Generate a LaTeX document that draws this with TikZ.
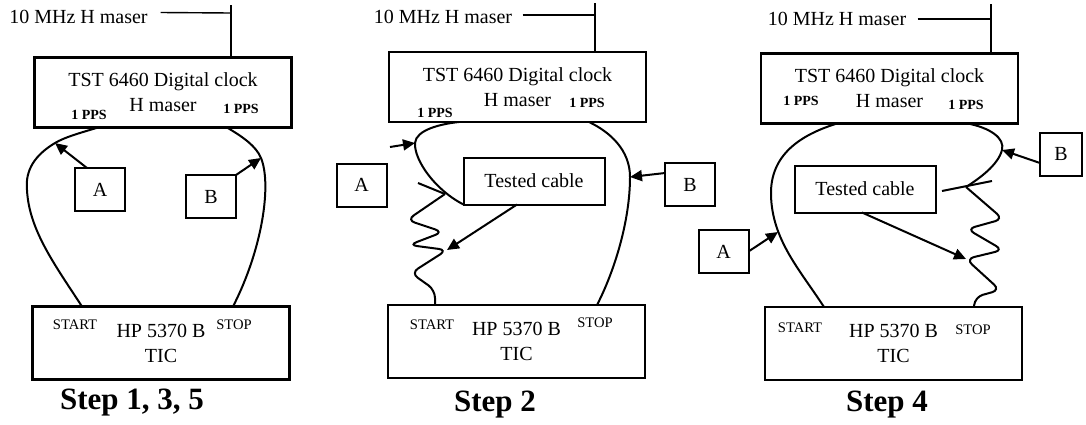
\documentclass[tikz,border=0pt]{standalone}
\usepackage{fontspec}
\setmainfont{Liberation Serif}
\usetikzlibrary{arrows.meta}

\begin{document}
\begin{tikzpicture}[
		x=0.5pt, y=-0.5pt,
		% Styles
		unit/.style={rectangle, draw=black, line width=1.2pt, inner sep=0pt, outer sep=0pt, align=center, font=\fontsize{10}{12.5}\selectfont},
		clockbox/.style={unit, minimum width=128.5pt, minimum height=35pt},
		ticbox/.style={unit, minimum width=128.5pt, minimum height=36.5pt},
		tagbox/.style={unit, line width=1pt, minimum width=25pt, minimum height=21.5pt},
		cablebox/.style={unit, line width=1pt, minimum width=70.5pt, minimum height=23.5pt},
		pps/.style={font=\fontsize{7}{8}\selectfont\bfseries, inner sep=0pt},
		port/.style={font=\fontsize{7.3}{8}\selectfont, inner sep=0pt},
		feedlabel/.style={font=\fontsize{10}{12}\selectfont, inner sep=0pt},
		steplabel/.style={font=\fontsize{15.5}{18}\selectfont\bfseries, inner sep=0pt},
		cable/.style={line width=1pt},
		feed/.style={line width=0.7pt},
		arrow/.style={line width=1pt, -{Triangle[length=6pt,width=5.5pt]}}
	]
	\useasboundingbox (0,0) rectangle (1086,424);

	% --- Step 1, 3, 5 ---
	\node[clockbox] (clk1) at (163,92.5) {TST 6460 Digital clock\\H maser};
	\node[ticbox] (tic1) at (161,343) {HP 5370 B\\TIC};
	\node[tagbox] (tagA1) at (100,189.5) {A};
	\node[tagbox] (tagB1) at (211,196.5) {B};
	\node[pps] (ppsL1) at (89,115) {1 PPS};
	\node[pps] (ppsR1) at (241,109) {1 PPS};
	\node[port] (start1) at (75,325) {START};
	\node[port] (stop1) at (234,325) {STOP};
	\node[feedlabel] (mhz1) at (78.5,16.5) {10 MHz H maser};
	\node[steplabel] (step1) at (132,403) {Step 1, 3, 5};
	\coordinate (feed1) at (231,13);
	\coordinate (hitA1) at (55,143);
	\coordinate (hitB1) at (261,158);

	\draw[feed] ([xshift=6.25pt,yshift=2pt]mhz1.east) -- (feed1);
	\draw[feed] ([yshift=4pt]feed1) -- (feed1 |- clk1.north);
	\draw[cable] ([xshift=-32.5pt]clk1.south) .. controls (80,133) and (65,137) .. (hitA1)
		.. controls (35,155) and (25,170) .. (27,190)
		.. controls (29,230) and (55,265) .. ([xshift=-39.5pt]tic1.north);
	\draw[cable] ([xshift=32pt]clk1.south) .. controls (243,137) and (256,146) .. (hitB1)
		.. controls (272,185) and (262,250) .. ([xshift=36pt]tic1.north);
	\draw[arrow] ([xshift=-6.5pt]tagA1.north) -- (hitA1);
	\draw[arrow] (tagB1.north east) -- (hitB1);

	% --- Step 2 ---
	\node[clockbox] (clk2) at (517.5,87) {TST 6460 Digital clock\\H maser};
	\node[ticbox] (tic2) at (516.5,341.5) {HP 5370 B\\TIC};
	\node[tagbox] (tagA2) at (361.5,185) {A};
	\node[tagbox] (tagB2) at (690,184.5) {B};
	\node[cablebox] (cable2) at (534,181) {Tested cable};
	\node[pps] (ppsL2) at (435,113) {1 PPS};
	\node[pps] (ppsR2) at (587,103) {1 PPS};
	\node[port] (start2) at (432,325) {START};
	\node[port] (stop2) at (595,323) {STOP};
	\node[feedlabel] (mhz2) at (443,16.5) {10 MHz H maser};
	\node[steplabel] (step2) at (495,405) {Step 2};
	\coordinate (feed2) at (595,15);
	\coordinate (tailA2) at (390,147);
	\coordinate (hitA2) at (415,143);
	\coordinate (hitB2) at (630,177);
	\coordinate (hitC2) at (447,250);
	\coordinate (kink2) at (445,194);
	\coordinate (tick2) at (418,183);

	\draw[feed] ([xshift=5pt,yshift=0.75pt]mhz2.east) -- (feed2);
	\draw[feed] ([yshift=6pt]feed2) -- (feed2 |- clk2.north);
	\draw[cable] ([xshift=-29.25pt]clk2.south) .. controls (440,124) and (416,130) .. (hitA2)
		.. controls (414,160) and (435,190) .. (cable2.south west);
	\draw[cable] (tick2) -- (kink2);
	\draw[cable, rounded corners=4pt] (kink2) -- (407,220) -- (443,232) -- (409,245) -- (hitC2)
		-- (411,273) -- (435,290) -- ([xshift=-40.75pt]tic2.north);
	\draw[cable] ([xshift=35.75pt]clk2.south) .. controls (610,132) and (630,150) .. (hitB2)
		.. controls (630,220) and (615,270) .. ([xshift=40.25pt]tic2.north);
	\draw[arrow] (tailA2) -- (hitA2);
	\draw[arrow] ([yshift=5.75pt]tagB2.west) -- (hitB2);
	\draw[arrow] ([xshift=-8.5pt]cable2.south) -- (hitC2);

	% --- Step 4 ---
	\node[clockbox] (clk3) at (889.5,88.5) {TST 6460 Digital clock\\H maser};
	\node[ticbox] (tic3) at (893.5,343.5) {HP 5370 B\\TIC};
	\node[tagbox] (tagA3) at (723.5,251.5) {A};
	\node[tagbox, minimum width=21pt] (tagB3) at (1061,154) {B};
	\node[cablebox] (cable3) at (865,189) {Tested cable};
	\node[pps] (ppsL3) at (801,101) {1 PPS};
	\node[pps] (ppsR3) at (966,105) {1 PPS};
	\node[port] (start3) at (800,328) {START};
	\node[port] (stop3) at (973,330) {STOP};
	\node[feedlabel] (mhz3) at (837,18.5) {10 MHz H maser};
	\node[steplabel] (step4) at (887,405) {Step 4};
	\coordinate (feed3) at (991,19);
	\coordinate (hitA3) at (778,232);
	\coordinate (hitB3) at (1002,150);
	\coordinate (hitC3) at (966,259);
	\coordinate (kink3) at (966,187);
	\coordinate (tickL3) at (942,191);
	\coordinate (tickR3) at (992,181);

	\draw[feed] ([xshift=5.5pt,yshift=-0.25pt]mhz3.east) -- (feed3);
	\draw[feed] ([yshift=7.5pt]feed3) -- (feed3 |- clk3.north);
	\draw[cable] ([xshift=-26.25pt]clk3.south) .. controls (800,135) and (770,155) .. (771,195)
		.. controls (772,240) and (800,270) .. ([xshift=-34.75pt]tic3.north);
	\draw[cable] ([xshift=39.25pt]clk3.south) .. controls (990,128) and (1005,138) .. (hitB3)
		.. controls (998,165) and (980,178) .. (kink3);
	\draw[cable] (tickL3) -- (tickR3);
	\draw[cable, rounded corners=4pt] (kink3) -- (1003,219) -- (967,229) -- (1003,250) -- (hitC3)
		-- (1000,290) -- (975,297) -- ([xshift=40.25pt]tic3.north);
	\draw[arrow] (tagA3.east) -- (hitA3);
	\draw[arrow] ([yshift=-4.5pt]tagB3.west) -- (hitB3);
	\draw[arrow] ([xshift=-1.5pt]cable3.south) -- (hitC3);

\end{tikzpicture}
\end{document}
